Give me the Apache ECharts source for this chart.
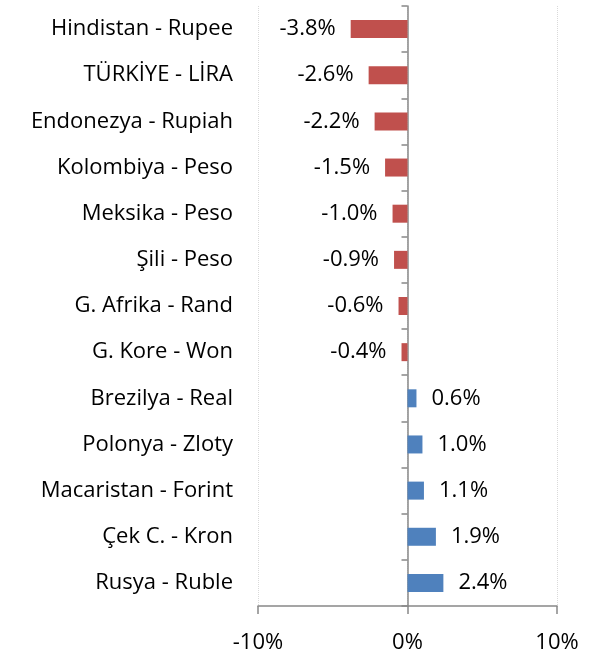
<!DOCTYPE html>
<html><head><meta charset="utf-8">
<script src="https://cdn.jsdelivr.net/npm/echarts@6/dist/echarts.min.js"></script>
<style>html,body{margin:0;padding:0;background:#fff}#c{width:596px;height:658px}</style>
</head><body><div id="c"></div>
<script>
const categories = ["Hindistan - Rupee","TÜRKİYE - LİRA","Endonezya - Rupiah","Kolombiya - Peso","Meksika - Peso","Şili - Peso","G. Afrika - Rand","G. Kore - Won","Brezilya - Real","Polonya - Zloty","Macaristan - Forint","Çek C. - Kron","Rusya - Ruble"];
const values = [-3.8,-2.6,-2.2,-1.5,-1.0,-0.9,-0.6,-0.4,0.6,1.0,1.1,1.9,2.4];
const xTicks = [-10,0,10];

const FONT = "Open Sans";
const FS = 22;
const chart = echarts.init(document.getElementById('c'), null, {renderer:'canvas'});
chart.setOption({
  animation:false,
  grid:{left:258,right:39,top:6,bottom:52,containLabel:false},
  xAxis:{type:'value',min:-10,max:10,interval:10,
    axisLine:{show:true,onZero:false,lineStyle:{color:'#888',width:1.5}},
    axisTick:{show:true,length:8,lineStyle:{color:'#888',width:1.5}},
    axisLabel:{formatter:v=>v+'%',fontFamily:FONT,fontSize:FS,color:'#000',margin:26},
    splitLine:{show:true,lineStyle:{type:'dotted',color:'#d9d9d9',width:1}}
  },
  yAxis:[
    {type:'category',data:categories,inverse:true,position:'left',
     axisLine:{show:false,onZero:false},axisTick:{show:false},
     axisLabel:{fontFamily:FONT,fontSize:FS,color:'#000',margin:25,padding:[4,0,0,0]}},
    {type:'category',data:categories,inverse:true,position:'left',
     axisLine:{show:true,onZero:true,lineStyle:{color:'#888',width:1.5}},
     axisTick:{show:true,length:6,lineStyle:{color:'#888',width:1.5}},
     axisLabel:{show:false}}
  ],
  series:[{type:'bar',yAxisIndex:0,barWidth:18,
    data:values.map(v=>({value:v,itemStyle:{color:v<0?'#C0504D':'#4F81BD'},
      label:{position:v<0?'left':'right'}})),
    label:{show:true,distance:15,padding:[4,0,0,0],formatter:p=>p.value.toFixed(1)+'%',fontFamily:FONT,fontSize:FS,color:'#000'}
  }]
});
</script></body></html>
